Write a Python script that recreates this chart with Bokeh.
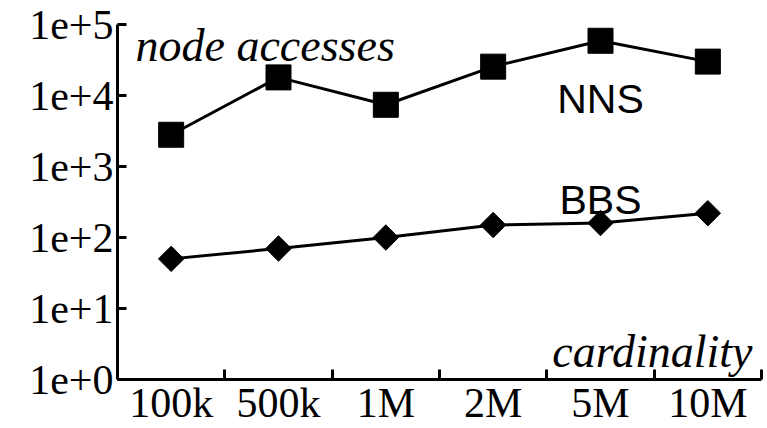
import numpy as np
from bokeh.plotting import figure
from bokeh.models import Label, FixedTicker, Range1d
from bokeh.embed import file_html
from bokeh.resources import INLINE

# ---- data ----
categories = ["100k", "500k", "1M", "2M", "5M", "10M"]
nns = [2800, 18000, 7400, 25500, 59000, 30000]
bbs = [50, 70, 100, 150, 160, 220]
y_ticks = [1, 10, 100, 1000, 10000, 100000]
y_tick_labels = ["1e+0", "1e+1", "1e+2", "1e+3", "1e+4", "1e+5"]
series_names = ["NNS", "BBS"]

n = len(categories)
xc = [i + 0.5 for i in range(n)]          # category centres
boundaries = [i + 1 for i in range(n)]    # category boundaries (tick marks)

p = figure(width=767, height=428,
           x_range=Range1d(0, n), y_range=Range1d(y_ticks[0], y_ticks[-1]),
           y_axis_type="log", output_backend="svg", toolbar_location=None,
           min_border_left=117, min_border_right=6,
           min_border_top=24, min_border_bottom=0)
p.outline_line_color = None
p.grid.visible = False
p.background_fill_color = "white"
p.border_fill_color = "white"

serif = "Liberation Serif"
lw = 3

# x axis: labels at category centres, tick marks at category boundaries
xa = p.xaxis[0]
xa.ticker = FixedTicker(ticks=xc, minor_ticks=boundaries)
xa.major_label_overrides = dict(zip(xc, categories))
xa.major_label_text_font = serif
xa.major_label_text_font_size = "42px"
xa.major_label_text_color = "black"
xa.major_label_standoff = 0
xa.major_tick_in = 0
xa.major_tick_out = 0
xa.minor_tick_in = 10
xa.minor_tick_out = 0
xa.minor_tick_line_width = lw
xa.minor_tick_line_color = "black"
xa.axis_line_width = lw
xa.axis_line_color = "black"

# y axis: log, labels 1e+N
ya = p.yaxis[0]
ya.ticker = FixedTicker(ticks=y_ticks, minor_ticks=[])
ya.major_label_overrides = dict(zip(y_ticks, y_tick_labels))
ya.major_tick_in = 9
ya.major_tick_out = 0
ya.minor_tick_in = 0
ya.minor_tick_out = 0
ya.major_tick_line_width = lw
ya.major_tick_line_color = "black"
ya.axis_line_width = lw
ya.axis_line_color = "black"
ya.major_label_text_font = serif
ya.major_label_text_font_size = "42px"
ya.major_label_text_color = "black"
ya.major_label_standoff = 4

# series
p.line(xc, nns, line_width=lw, line_color="black")
p.scatter(xc, nns, marker="square", size=25, fill_color="black", line_color="black")
p.line(xc, bbs, line_width=lw, line_color="black")
p.scatter(xc, bbs, marker="square", angle=np.pi / 4, size=18,
          fill_color="black", line_color="black")

# axis titles inside the plot
p.add_layout(Label(x=0, y=y_ticks[-1], x_offset=18, y_offset=-21,
                   text="node accesses", text_font=serif,
                   text_font_style="italic", text_font_size="46px",
                   text_baseline="alphabetic", text_color="black"))
p.add_layout(Label(x=n, y=y_ticks[0], x_offset=-9, y_offset=28,
                   text="cardinality", text_font=serif,
                   text_font_style="italic", text_font_size="46px",
                   text_align="right", text_baseline="alphabetic", text_color="black"))

# series names
p.add_layout(Label(x=4.5, y=8960, text=series_names[0], text_font="Liberation Sans",
                   text_font_size="41px", text_align="center",
                   text_baseline="alphabetic", text_color="black"))
p.add_layout(Label(x=4.5, y=342, text=series_names[1], text_font="Liberation Sans",
                   text_font_size="41px", text_align="center",
                   text_baseline="alphabetic", text_color="black"))

open("out.html", "w").write(file_html(p, INLINE))
